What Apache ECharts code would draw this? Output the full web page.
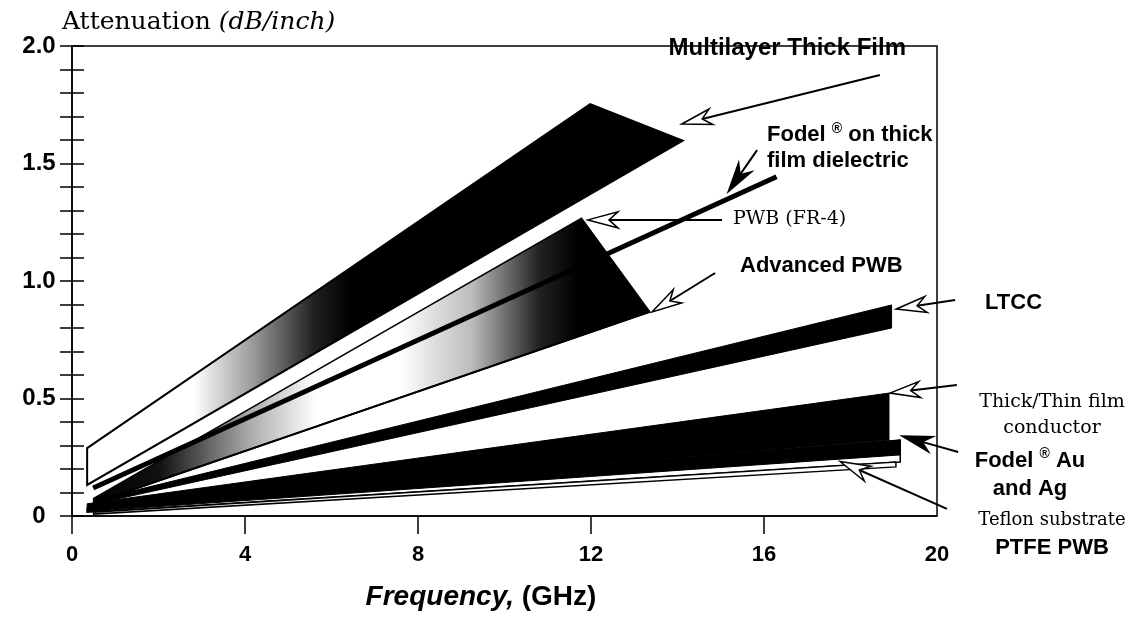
<!DOCTYPE html>
<html><head><meta charset="utf-8">
<script src="https://cdn.jsdelivr.net/npm/echarts@6/dist/echarts.min.js"></script>
<style>html,body{margin:0;padding:0;background:#fff}#c{width:1131px;height:625px}</style>
</head><body><div id="c"></div>
<script>
// ---- axis ticks / labels ----
const xTickValues = [0, 4, 8, 12, 16];
const xLabelValues = [0, 4, 8, 12, 16, 20];
const yLabelValues = [0, 0.5, 1.0, 1.5, 2.0];
const yLabelTexts = ['0', '0.5', '1.0', '1.5', '2.0'];

// ---- regions: [frequency (GHz), attenuation (dB/inch)] ----
const multilayerThickFilm = [[0.35, 0.132], [0.35, 0.289], [11.98, 1.753], [14.12, 1.597]];
const pwbFR4 = [[0.5, 0.055], [0.5, 0.075], [11.78, 1.267], [13.36, 0.869]];
const advancedPWB = [[0.5, 0.055], [13.36, 0.869]];
const fodelOnThickFilm = [[0.49, 0.119], [16.29, 1.444]];
const ltcc = [[0.5, 0.05], [0.5, 0.066], [18.95, 0.898], [18.95, 0.80]];
const thickThinFilm = [[0.35, 0.033], [0.35, 0.052], [18.89, 0.523], [18.89, 0.323]];
const fodelAuAgBand = [[0.35, 0.016], [0.35, 0.033], [19.15, 0.323], [19.15, 0.23]];
const fodelAuAgCore = [[0.35, 0.019], [0.35, 0.033], [19.15, 0.323], [19.15, 0.26]];
const teflonPTFE = [[0.5, 0.008], [0.5, 0.016], [19.05, 0.23], [19.05, 0.209]];

// ---- annotation arrows: [tailX, tailY, tipX, tipY] in data units ----
const hollowArrows = [
  [18.68, 1.877, 14.10, 1.668],
  [15.03, 1.260, 11.93, 1.260],
  [14.87, 1.034, 13.41, 0.868],
  [20.42, 0.919, 19.06, 0.881],
  [20.46, 0.557, 18.91, 0.523],
  [20.23, 0.030, 17.76, 0.232]
];
const filledArrows = [
  [15.84, 1.557, 15.17, 1.379],
  [20.49, 0.272, 19.19, 0.340]
];

const SANS = 'Liberation Sans, Arial, sans-serif';
const SERIF = 'DejaVu Serif, serif';

function polygonSeries(name, pts, fill, stroke, lw, z) {
  return {
    type: 'custom', name: name, coordinateSystem: 'cartesian2d', data: pts, z: z || 2,
    encode: { x: 0, y: 1 }, silent: true,
    renderItem: function (params, api) {
      if (params.dataIndexInside !== 0) return null;
      const n = params.dataInsideLength, points = [];
      for (let i = 0; i < n; i++) points.push(api.coord([api.value(0, i), api.value(1, i)]));
      return { type: 'polygon', shape: { points: points },
        style: { fill: fill, stroke: stroke || null, lineWidth: lw || 0, lineJoin: 'miter' } };
    }
  };
}

function arrowSeries(name, arr, filled) {
  return {
    type: 'custom', name: name, coordinateSystem: 'cartesian2d', data: arr, z: 10, silent: true,
    encode: { x: [0, 2], y: [1, 3] },
    renderItem: function (params, api) {
      const a = api.coord([api.value(0), api.value(1)]);
      const b = api.coord([api.value(2), api.value(3)]);
      const dx = b[0] - a[0], dy = b[1] - a[1], len = Math.hypot(dx, dy);
      const ux = dx / len, uy = dy / len, nx = -uy, ny = ux;
      const L = 30, W = 8, N = 9;
      const bx = b[0] - ux * L, by = b[1] - uy * L;
      const mx = b[0] - ux * (L - N), my = b[1] - uy * (L - N);
      return { type: 'group', children: [
        { type: 'line', shape: { x1: a[0], y1: a[1], x2: mx, y2: my }, style: { stroke: '#000', lineWidth: 2 } },
        { type: 'polygon', shape: { points: [b, [bx + nx * W, by + ny * W], [mx, my], [bx - nx * W, by - ny * W]] },
          style: { fill: filled ? '#000' : '#fff', stroke: '#000', lineWidth: 1.5 } }
      ] };
    }
  };
}

const chart = echarts.init(document.getElementById('c'), null, { renderer: 'canvas' });
const G = echarts.graphic.LinearGradient;

const option = {
  animation: false,
  backgroundColor: '#fff',
  grid: { left: 72, right: 194, top: 46, bottom: 109, show: true, borderColor: '#000', borderWidth: 1.5, backgroundColor: 'transparent' },
  xAxis: {
    type: 'value', min: 0, max: 20, interval: 4,
    axisLine: { show: true, onZero: false, lineStyle: { color: '#000', width: 1.5 } },
    axisTick: { show: true, length: 18, customValues: xTickValues, lineStyle: { color: '#000', width: 1.5 } },
    axisLabel: { color: '#000', fontFamily: SANS, fontWeight: 'bold', fontSize: 22, margin: 28, customValues: xLabelValues,
      formatter: function (v) { return xLabelValues.indexOf(v) >= 0 ? String(v) : ''; } },
    splitLine: { show: false }
  },
  yAxis: [{
    type: 'value', min: 0, max: 2, interval: 0.1, position: 'left',
    axisLine: { show: true, onZero: false, lineStyle: { color: '#000', width: 1.5 } },
    axisTick: { show: true, length: 12, lineStyle: { color: '#000', width: 1.5 } },
    axisLabel: { color: '#000', fontFamily: SANS, fontWeight: 'bold', fontSize: 24, margin: 33, align: 'center',
      formatter: function (v) {
        for (let i = 0; i < yLabelValues.length; i++) if (Math.abs(v - yLabelValues[i]) < 1e-6) return yLabelTexts[i];
        return '';
      } },
    splitLine: { show: false }
  }, {
    type: 'value', min: 0, max: 2, interval: 0.1, position: 'left',
    axisLine: { show: false },
    axisTick: { show: true, inside: true, length: 12, lineStyle: { color: '#000', width: 1.5 } },
    axisLabel: { show: false }, splitLine: { show: false }
  }],
  series: [
    polygonSeries('Multilayer Thick Film', multilayerThickFilm,
      new G(0, 0, 1, 0, [{ offset: 0, color: '#fff' }, { offset: 0.18, color: '#fff' }, { offset: 0.28, color: '#999' },
        { offset: 0.38, color: '#222' }, { offset: 0.44, color: '#000' }, { offset: 1, color: '#000' }]), '#000', 2, 2),
    polygonSeries('PWB (FR-4)', pwbFR4,
      new G(0, 0, 1, 0, [{ offset: 0, color: '#000' }, { offset: 0.12, color: '#111' }, { offset: 0.28, color: '#aaa' },
        { offset: 0.4, color: '#fff' }, { offset: 0.55, color: '#fff' }, { offset: 0.68, color: '#bbb' },
        { offset: 0.8, color: '#222' }, { offset: 0.87, color: '#000' }, { offset: 1, color: '#000' }]), '#000', 1.5, 3),
    { type: 'line', name: 'Advanced PWB', data: advancedPWB, symbol: 'none', z: 4, silent: true,
      lineStyle: { color: '#000', width: 2 } },
    { type: 'line', name: 'Fodel on thick film dielectric', data: fodelOnThickFilm, symbol: 'none', z: 5, silent: true,
      lineStyle: { color: '#000', width: 5 } },
    polygonSeries('LTCC', ltcc, '#000', '#000', 1, 4),
    polygonSeries('Thick/Thin film conductor', thickThinFilm, '#000', '#000', 1, 4),
    polygonSeries('Fodel Au and Ag band', fodelAuAgBand, '#fff', '#000', 1.5, 4),
    polygonSeries('Fodel Au and Ag', fodelAuAgCore, '#000', '#000', 1, 5),
    polygonSeries('Teflon substrate PTFE PWB', teflonPTFE, '#fff', '#000', 1.5, 5),
    arrowSeries('hollow arrows', hollowArrows, false),
    arrowSeries('filled arrows', filledArrows, true)
  ],
  graphic: [
    { type: 'text', x: 62, y: 22, style: { text: '{a|Attenuation }{i|(dB/inch)}', textVerticalAlign: 'middle',
      rich: { a: { font: '25px ' + SERIF, fill: '#000' }, i: { font: 'italic 25px ' + SERIF, fill: '#000' } } } },
    { type: 'text', x: 481, y: 597, style: { text: '{i|Frequency,}{b| (GHz)}', textAlign: 'center', textVerticalAlign: 'middle',
      rich: { i: { font: 'italic bold 28px ' + SANS, fill: '#000' }, b: { font: 'bold 28px ' + SANS, fill: '#000' } } } },
    { type: 'text', x: 906, y: 48, style: { text: 'Multilayer Thick Film', textAlign: 'right', textVerticalAlign: 'middle', font: 'bold 24px ' + SANS, fill: '#000' } },
    { type: 'text', x: 767, y: 148, style: { text: '{b|Fodel }{s|®}{b| on thick}\n{b|film dielectric}', textVerticalAlign: 'middle',
      rich: { b: { font: 'bold 22px ' + SANS, fill: '#000', lineHeight: 26 }, s: { font: 'bold 14px ' + SANS, fill: '#000', lineHeight: 26, verticalAlign: 'top' } } } },
    { type: 'text', x: 733, y: 219, style: { text: 'PWB (FR-4)', textVerticalAlign: 'middle', font: '19px ' + SERIF, fill: '#000' } },
    { type: 'text', x: 740, y: 266, style: { text: 'Advanced PWB', textVerticalAlign: 'middle', font: 'bold 22px ' + SANS, fill: '#000' } },
    { type: 'text', x: 985, y: 303, style: { text: 'LTCC', textVerticalAlign: 'middle', font: 'bold 22px ' + SANS, fill: '#000' } },
    { type: 'text', x: 1052, y: 415, style: { text: 'Thick/Thin film\nconductor', textAlign: 'center', textVerticalAlign: 'middle', font: '19px ' + SERIF, fill: '#000', lineHeight: 26 } },
    { type: 'text', x: 1030, y: 475, style: { text: '{b|Fodel }{s|®}{b| Au}\n{b|and Ag}', textAlign: 'center', textVerticalAlign: 'middle',
      rich: { b: { font: 'bold 22px ' + SANS, fill: '#000', lineHeight: 28 }, s: { font: 'bold 14px ' + SANS, fill: '#000', lineHeight: 28, verticalAlign: 'top' } } } },
    { type: 'text', x: 1052, y: 534, style: { text: '{a|Teflon substrate}\n{b|PTFE PWB}', textAlign: 'center', textVerticalAlign: 'middle',
      rich: { a: { font: '18px ' + SERIF, fill: '#000', lineHeight: 27 }, b: { font: 'bold 22px ' + SANS, fill: '#000', lineHeight: 27 } } } }
  ]
};
chart.setOption(option);
</script>
</body></html>
